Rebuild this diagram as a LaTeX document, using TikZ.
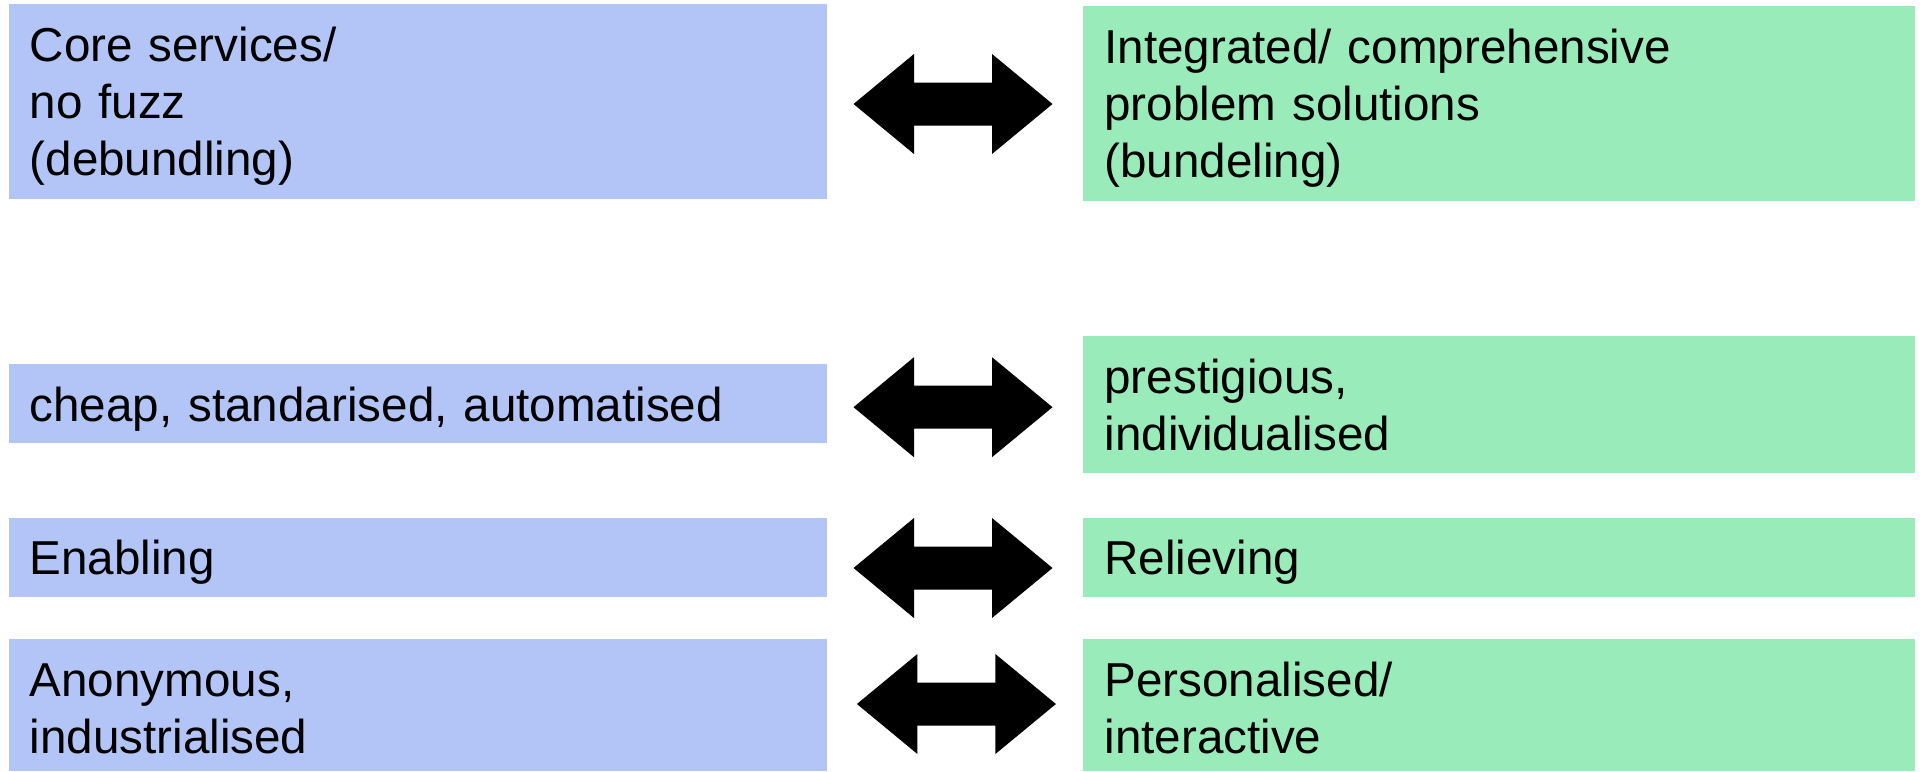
\documentclass[tikz,border=0pt]{standalone}
\usepackage{fontspec}
\setmainfont{Liberation Sans}
\definecolor{boxblue}{RGB}{179,197,247}
\definecolor{boxgreen}{RGB}{153,236,185}
\tikzset{
  leftbox/.style={fill=boxblue, draw=none, inner sep=0pt, minimum width=818pt},
  rightbox/.style={fill=boxgreen, draw=none, inner sep=0pt, minimum width=832pt},
  boxtext/.style={anchor=base west, inner sep=0pt, outer sep=0pt, align=left, text width=780pt,
    font=\fontsize{47.6}{57}\selectfont},
  pics/dblarrow/.style={code={
    \fill[black] (-99.5,0) -- (-39,-50) -- (-39,-21.5) -- (39,-21.5) -- (39,-50) -- (99.5,0)
      -- (39,50) -- (39,21.5) -- (-39,21.5) -- (-39,50) -- cycle;
  }}
}
\begin{document}
\begin{tikzpicture}[x=1pt,y=-1pt]
\useasboundingbox (0,0) rectangle (1922,771);
% left boxes
\node[leftbox, minimum height=195pt] (L1) at (418,101.5) {};
\node[leftbox, minimum height=79pt] (L2) at (418,403.5) {};
\node[leftbox, minimum height=79pt] (L3) at (418,557.5) {};
\node[leftbox, minimum height=132pt] (L4) at (418,705) {};
% right boxes
\node[rightbox, minimum height=195pt] (R1) at (1499,103.5) {};
\node[rightbox, minimum height=137pt] (R2) at (1499,404.5) {};
\node[rightbox, minimum height=79pt] (R3) at (1499,557.5) {};
\node[rightbox, minimum height=132pt] (R4) at (1499,705) {};
% texts
\node[boxtext] (tL1) at (29.7,61) {Core services/\\no fuzz\\(debundling)};
\node[boxtext] (tL2) at (29.7,421) {cheap, standarised, automatised};
\node[boxtext] (tL3) at (29.7,574.6) {Enabling};
\node[boxtext] (tL4) at (29.7,696) {Anonymous,\\industrialised};
\node[boxtext] (tR1) at (1104.5,63) {Integrated/ comprehensive\\problem solutions\\(bundeling)};
\node[boxtext] (tR2) at (1104.5,393) {prestigious,\\individualised};
\node[boxtext] (tR3) at (1104.5,574.6) {Relieving};
\node[boxtext] (tR4) at (1104.5,696) {Personalised/\\interactive};
% arrows
\pic (A1) at (953,104) {dblarrow};
\pic (A2) at (953,407.2) {dblarrow};
\pic (A3) at (953,568) {dblarrow};
\pic (A4) at (956.4,704) {dblarrow};
\end{tikzpicture}
\end{document}
